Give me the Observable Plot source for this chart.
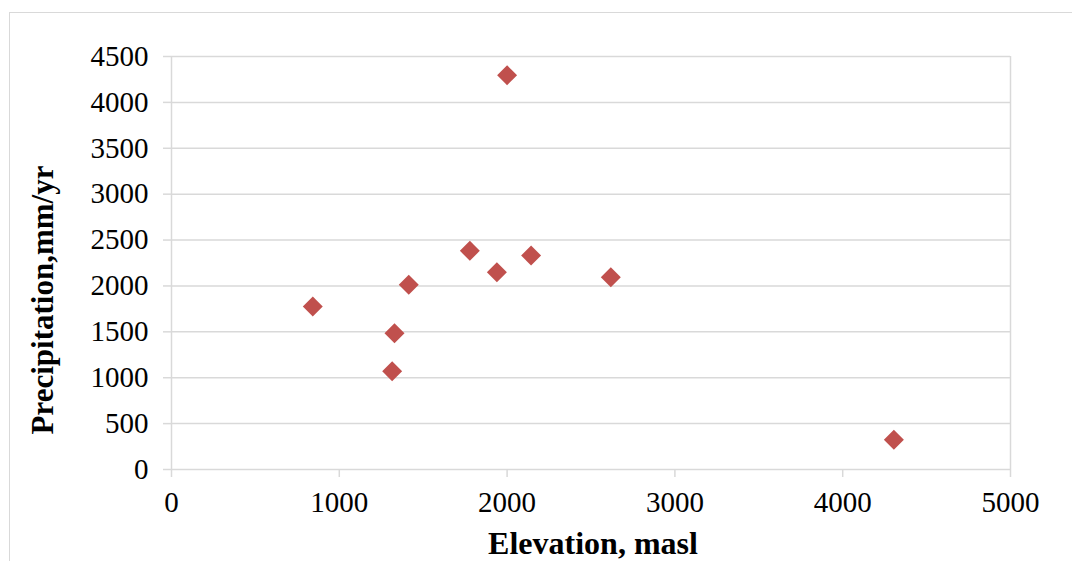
<!DOCTYPE html>
<html><head><meta charset="utf-8">
<script src="https://cdn.jsdelivr.net/npm/d3@7"></script>
<script src="https://cdn.jsdelivr.net/npm/@observablehq/plot@0.6"></script>
<style>
html,body{margin:0;padding:0;background:#fff;overflow:hidden;}
#wrap{position:relative;width:1072px;height:561px;overflow:hidden;}
#border{position:absolute;left:9px;top:12px;width:1200px;height:700px;border:1.5px solid #d9d9d9;box-sizing:border-box;}
#chart{position:absolute;left:0;top:0;}
</style></head><body>
<div id="wrap"><div id="border"></div><div id="chart"></div></div>
<script>
const elevation = [842, 1315, 1329, 1414, 1778, 1939, 2000, 2143, 2618, 4305];
const precipitation = [1776, 1071, 1485, 2012, 2383, 2150, 4296, 2332, 2095, 323];
const xTicks = [0, 1000, 2000, 3000, 4000, 5000];
const yTicks = [0, 500, 1000, 1500, 2000, 2500, 3000, 3500, 4000, 4500];
const xTitle = "Elevation, masl";
const yTitle = "Precipitation,mm/yr";

const data = elevation.map((e, i) => ({elevation: e, precipitation: precipitation[i]}));
const grid = "#d9d9d9";

const plot = Plot.plot({
  width: 1072, height: 561,
  marginLeft: 171, marginRight: 62, marginTop: 56, marginBottom: 92,
  style: {fontFamily: "'Liberation Serif', 'Times New Roman', serif", fontSize: "29px", color: "#000", background: "transparent"},
  x: {domain: [0, 5000]},
  y: {domain: [0, 4500]},
  marks: [
    Plot.ruleY(yTicks, {stroke: grid, strokeWidth: 1.5}),
    Plot.ruleX([0, 5000], {stroke: grid, strokeWidth: 1.5}),
    Plot.axisX({ticks: xTicks, tickSize: 8, tickPadding: 14, stroke: grid, strokeWidth: 1.5, strokeOpacity: 1, fill: "#000", label: null, tickFormat: d => String(d)}),
    Plot.axisY({ticks: yTicks, tickSize: 8, tickPadding: 15, stroke: grid, strokeWidth: 1.5, strokeOpacity: 1, fill: "#000", label: null, tickFormat: d => String(d)}),
    Plot.dot(data, {x: "elevation", y: "precipitation", symbol: "diamond2", r: 9, fill: "#C0504D", stroke: "none"}),
    Plot.text([xTitle], {frameAnchor: "bottom", lineAnchor: "top", textAnchor: "middle", dy: 62, dx: 2, fontWeight: "bold", fontSize: 32, fill: "#000"}),
    Plot.text([yTitle], {frameAnchor: "left", textAnchor: "middle", rotate: -90, dx: -128, dy: 37, fontWeight: "bold", fontSize: 31, fill: "#000"})
  ]
});
document.getElementById("chart").appendChild(plot);
</script>
</body></html>
